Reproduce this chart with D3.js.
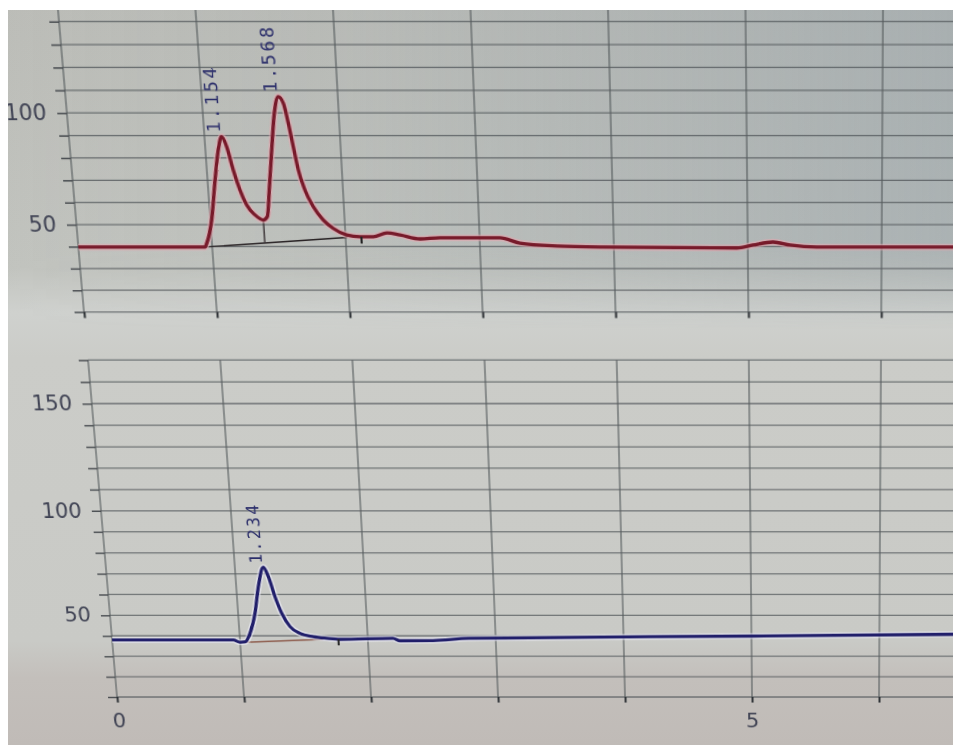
<!DOCTYPE html>
<html>
<head>
<meta charset="utf-8">
<script src="https://cdn.jsdelivr.net/npm/d3@7"></script>
<style>
body { margin: 0; background: #fff; overflow: hidden; width: 953px; height: 745px; position: relative; }
svg { position: absolute; left: 0; top: 0; overflow: visible; }
#screen { transform-origin: 0 0; }
</style>
</head>
<body>
<svg id="bg" width="953" height="745"></svg>
<svg id="screen" width="1000" height="760"></svg>
<svg id="frame" width="953" height="745"></svg>
<script>
// TIME AXIS (minutes)
const xTicks = [0, 1, 2, 3, 4, 5, 6]
const xLabels = ["0", "", "", "", "", "5", ""]

// SIGNAL GRIDS
const topGrid = [10, 20, 30, 40, 50, 60, 70, 80, 90, 100, 110, 120, 130, 140, 150]
const topLabels = [50, 100]
const bottomGrid = [10, 20, 30, 40, 50, 60, 70, 80, 90, 100, 110, 120, 130, 140, 150, 160, 170]
const bottomLabels = [50, 100, 150]

// TOP TRACE (red)
const topTime = [0, 0.946, 0.961, 1.010, 1.056, 1.095, 1.127, 1.159, 1.196, 1.236, 1.278, 1.335, 1.395,
	1.426, 1.453, 1.490, 1.526, 1.563, 1.597, 1.625, 1.651, 1.678, 1.718, 1.773, 1.841, 1.912, 2.009,
	2.108, 2.207, 2.311, 2.407, 2.555, 2.704, 3.003, 3.152, 3.30, 3.576, 3.919, 4.92, 5.039, 5.189,
	5.316, 5.517, 6.6]
const topSignal = [39.8, 39.8, 41.5, 52.1, 70.1, 83.6, 89.5, 85.0, 74.6, 65.6, 58.9, 54.4, 52.1,
	53.6, 65.6, 83.6, 99.8, 107.2, 104.3, 95.4, 85.0, 74.6, 65.6, 58.1, 52.1, 48.3, 45.3,
	44.5, 44.5, 46.2, 45.3, 43.5, 44.0, 44.0, 44.0, 41.6, 40.3, 39.8, 39.4, 40.7, 42.1,
	40.7, 39.8, 39.8]

// top integration baseline, valley drop and end marker
const topBaseTime = [0.946, 2.011]
const topBaseSignal = [39.8, 44.2]
const topDropTime = [1.395, 1.395]
const topDropSignal = [52.1, 41.7]
const topEndTime = [2.118, 2.118]
const topEndSignal = [44.5, 41.4]

// top peaks
const topPeakTime = [1.127, 1.563]
const topPeakSignal = [89.5, 107.2]
const topPeakLabel = ["1.154", "1.568"]

// BOTTOM TRACE (blue)
const bottomTime = [0, 0.948, 0.999, 1.04, 1.082, 1.132, 1.172, 1.221, 1.255, 1.296, 1.34, 1.398,
	1.473, 1.575, 1.679, 1.783, 2.197, 2.251, 2.51, 2.79, 5.013, 6.6]
const bottomSignal = [38.0, 38.0, 36.9, 37.1, 41.2, 51.0, 63.8, 73.1, 68.6, 59.0, 51.0, 44.5,
	41.2, 39.6, 38.8, 38.3, 38.8, 37.6, 37.7, 38.8, 39.9, 40.8]

const bottomBaseTime = [1.02, 1.65]
const bottomBaseSignal = [36.8, 38.3]
const bottomEndTime = [1.77, 1.77]
const bottomEndSignal = [38.3, 35.4]

const bottomPeakTime = [1.221]
const bottomPeakSignal = [73.1]
const bottomPeakLabel = ["1.234"]

// COLOURS
const GRID = "#565b5e"
const AXIS_TEXT = "#3f4253"
const RED = "#771a2a"
const BLUE = "#201e6a"
const LABEL = "#2b2e6a"

// FLAT SCREEN SCALES (the photo perspective is added afterwards)
const x = d3.scaleLinear().domain([0, 6]).range([117, 879])
const yTop = d3.scaleLinear().domain([10, 100]).range([298.6, 106.2])
const yBottom = d3.scaleLinear().domain([10, 170]).range([697, 346.4])
const RIGHT = 1000

const screen = d3.select("#screen")

function zip(a, b) { return a.map((d, i) => [d, b[i]]) }

function drawPanel(y, grid, labels, vTop, showXLabels) {
	const g = screen.append("g")

	// horizontal grid
	g.append("g").selectAll("line").data(grid).join("line")
		.attr("x1", x(0)).attr("x2", RIGHT)
		.attr("y1", d => y(d)).attr("y2", d => y(d))
		.attr("stroke", GRID).attr("stroke-width", 1.3).attr("opacity", 0.8)

	// vertical grid (time = 0 is the axis)
	g.append("g").selectAll("line").data(xTicks).join("line")
		.attr("x1", d => x(d)).attr("x2", d => x(d))
		.attr("y1", y(10)).attr("y2", y(vTop))
		.attr("stroke", GRID).attr("stroke-width", 1.3).attr("opacity", 0.85)

	// y axis ticks
	const yAxis = d3.axisLeft(y)
		.tickValues(grid)
		.tickSize(9)
		.tickPadding(10)
		.tickFormat(d => labels.includes(d) ? d : "")
	g.append("g")
		.attr("transform", `translate(${x(0)},0)`)
		.call(yAxis)
		.call(a => a.select(".domain").remove())
		.call(a => a.selectAll("line").attr("stroke", "#4a4e52").attr("stroke-width", 1.5))
		.call(a => a.selectAll("text")
			.attr("fill", AXIS_TEXT)
			.attr("font-size", 20.5)
			.attr("font-family", "DejaVu Sans, sans-serif"))

	// x axis ticks
	const xAxis = d3.axisBottom(x)
		.tickValues(xTicks)
		.tickSize(6)
		.tickPadding(12)
		.tickFormat((d, i) => showXLabels ? xLabels[i] : "")
	g.append("g")
		.attr("transform", `translate(0,${y(10)})`)
		.call(xAxis)
		.call(a => a.select(".domain").remove())
		.call(a => a.selectAll("line").attr("stroke", "#2e3236").attr("stroke-width", 2))
		.call(a => a.selectAll("text")
			.attr("fill", AXIS_TEXT)
			.attr("font-size", 21)
			.attr("font-family", "DejaVu Sans, sans-serif"))

	return g
}

function drawTrace(g, y, time, signal, color, halo) {
	const line = d3.line()
		.x(d => x(d[0]))
		.y(d => y(d[1]))
		.curve(d3.curveMonotoneX)
	const data = zip(time, signal)
	g.append("path").datum(data)
		.attr("d", line)
		.attr("fill", "none")
		.attr("stroke", halo).attr("stroke-width", 6.5).attr("opacity", 0.6)
		.attr("stroke-linejoin", "round")
	g.append("path").datum(data)
		.attr("d", line)
		.attr("fill", "none")
		.attr("stroke", color).attr("stroke-width", 3.3)
		.attr("stroke-linejoin", "round")
}

function drawThin(g, y, time, signal, color, width) {
	g.append("path").datum(zip(time, signal))
		.attr("d", d3.line().x(d => x(d[0])).y(d => y(d[1])))
		.attr("fill", "none")
		.attr("stroke", color).attr("stroke-width", width)
}

function drawPeakLabels(g, y, time, signal, label) {
	g.selectAll(null).data(label).join("text")
		.attr("transform", (d, i) => `translate(${x(time[i]) - 1},${y(signal[i]) - 4}) rotate(-90)`)
		.attr("text-anchor", "start")
		.attr("fill", LABEL)
		.attr("font-size", 17)
		.attr("letter-spacing", "2.5px")
		.attr("font-family", "DejaVu Sans Mono, monospace")
		.text(d => d)
}

// TOP PANEL
const gTop = drawPanel(yTop, topGrid, topLabels, 150, false)
drawThin(gTop, yTop, topBaseTime, topBaseSignal, "#2a2426", 1.4)
drawThin(gTop, yTop, topDropTime, topDropSignal, "#3a3436", 1.4)
drawTrace(gTop, yTop, topTime, topSignal, RED, "#e3a9b1")
drawThin(gTop, yTop, topEndTime, topEndSignal, "#222", 2)
drawPeakLabels(gTop, yTop, topPeakTime, topPeakSignal, topPeakLabel)

// BOTTOM PANEL
const gBottom = drawPanel(yBottom, bottomGrid, bottomLabels, 170, true)
drawThin(gBottom, yBottom, bottomBaseTime, bottomBaseSignal, "#8a5646", 1.4)
drawTrace(gBottom, yBottom, bottomTime, bottomSignal, BLUE, "#eeeefa")
drawThin(gBottom, yBottom, bottomEndTime, bottomEndSignal, "#222", 2)
drawPeakLabels(gBottom, yBottom, bottomPeakTime, bottomPeakSignal, bottomPeakLabel)

// PHOTO PERSPECTIVE: map the flat screen rectangle onto the photographed quad
const FLAT = { left: x(0), right: x(6), top: 10, bottom: 697 }
const QUAD = [[58, 10], [883, 10], [879, 697], [117, 697]]   // TL, TR, BR, BL

function squareToQuad(p) {
	const [x0, y0] = p[0], [x1, y1] = p[1], [x2, y2] = p[2], [x3, y3] = p[3]
	const sx = x0 - x1 + x2 - x3, sy = y0 - y1 + y2 - y3
	const dx1 = x1 - x2, dx2 = x3 - x2, dy1 = y1 - y2, dy2 = y3 - y2
	const det = dx1 * dy2 - dx2 * dy1
	const g = (sx * dy2 - sy * dx2) / det
	const h = (dx1 * sy - dy1 * sx) / det
	return [
		[x1 - x0 + g * x1, x3 - x0 + h * x3, x0],
		[y1 - y0 + g * y1, y3 - y0 + h * y3, y0],
		[g, h, 1]
	]
}

function mul(A, B) {
	return A.map((row, i) => B[0].map((_, j) => row.reduce((s, v, k) => s + v * B[k][j], 0)))
}

const Q = squareToQuad(QUAD)
const W = FLAT.right - FLAT.left, H = FLAT.bottom - FLAT.top
const N = [[1 / W, 0, -FLAT.left / W], [0, 1 / H, -FLAT.top / H], [0, 0, 1]]
const M = mul(Q, N)
screen.style("transform",
	`matrix3d(${M[0][0]},${M[1][0]},0,${M[2][0]},${M[0][1]},${M[1][1]},0,${M[2][1]},0,0,1,0,${M[0][2]},${M[1][2]},0,${M[2][2]})`)

// PHOTO BACKGROUND
const bg = d3.select("#bg")
const defs = bg.append("defs")

const vStops = [[0, "#bcbdb8"], [0.36, "#c2c4bf"], [0.42, "#cfd1ce"], [0.48, "#cbccc8"],
	[0.86, "#c9cac6"], [0.91, "#c3bfbb"], [1, "#c0bbb7"]]
defs.append("linearGradient").attr("id", "vgrad")
	.attr("x1", 0).attr("y1", 0).attr("x2", 0).attr("y2", 1)
	.selectAll("stop").data(vStops).join("stop")
	.attr("offset", d => d[0]).attr("stop-color", d => d[1])

const hStops = [[0, 0], [0.35, 0.1], [0.7, 0.3], [1, 0.48]]
defs.append("linearGradient").attr("id", "hgrad")
	.selectAll("stop").data(hStops).join("stop")
	.attr("offset", d => d[0]).attr("stop-color", "#93a0a8").attr("stop-opacity", d => d[1])

const mStops = [[0, "#fff"], [0.75, "#fff"], [1, "#000"]]
defs.append("linearGradient").attr("id", "mgrad")
	.attr("x1", 0).attr("y1", 0).attr("x2", 0).attr("y2", 1)
	.selectAll("stop").data(mStops).join("stop")
	.attr("offset", d => d[0]).attr("stop-color", d => d[1])
defs.append("mask").attr("id", "topmask")
	.append("rect").attr("x", 0).attr("y", 0).attr("width", 953).attr("height", 330)
	.attr("fill", "url(#mgrad)")

bg.append("rect").attr("width", 953).attr("height", 745).attr("fill", "url(#vgrad)")
bg.append("rect").attr("width", 953).attr("height", 330)
	.attr("fill", "url(#hgrad)").attr("mask", "url(#topmask)")

// WHITE PHOTO BORDER
const frame = d3.select("#frame")
frame.append("rect").attr("x", 0).attr("y", 0).attr("width", 953).attr("height", 10).attr("fill", "#fff")
frame.append("rect").attr("x", 0).attr("y", 0).attr("width", 8).attr("height", 745).attr("fill", "#fff")
</script>
</body>
</html>
